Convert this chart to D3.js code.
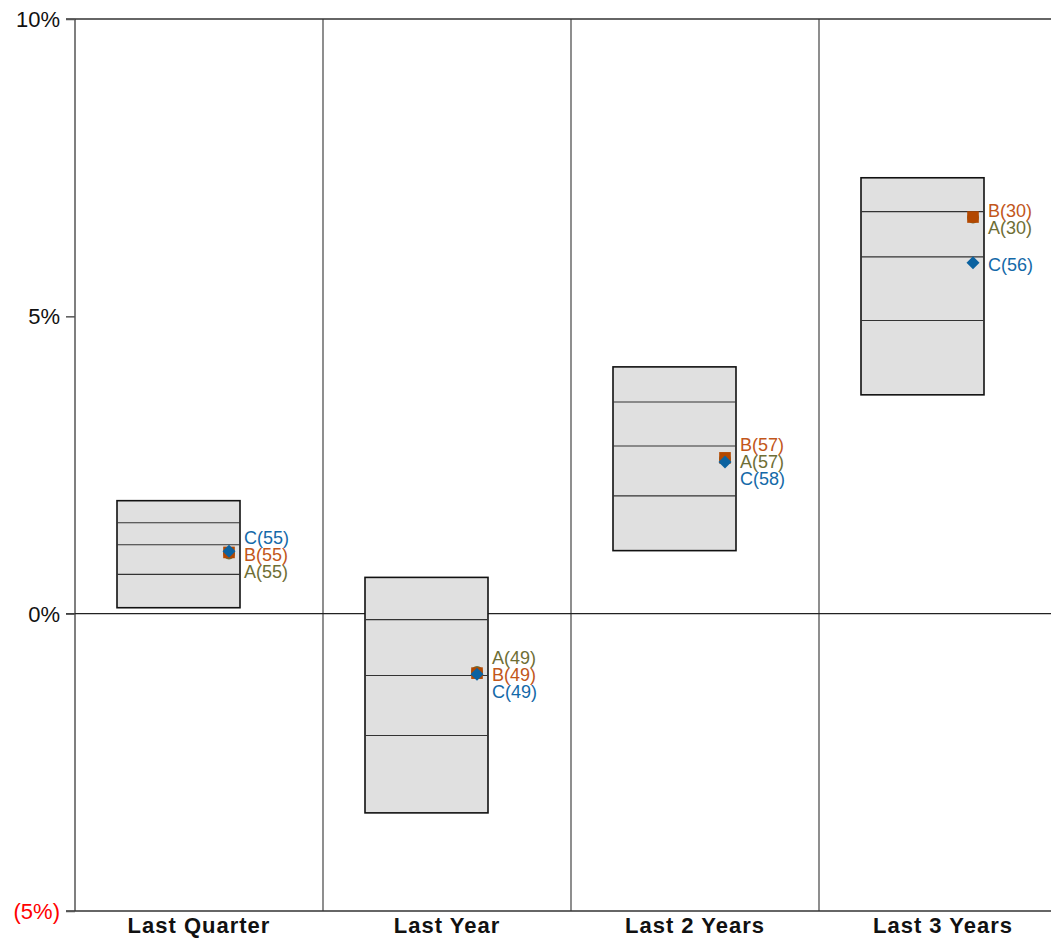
<!DOCTYPE html>
<html>
<head>
<meta charset="utf-8">
<script src="https://cdn.jsdelivr.net/npm/d3@7"></script>
<style>
  html, body { margin: 0; padding: 0; background: #fff; overflow: hidden; }
  svg { display: block; font-family: "Liberation Sans", Arial, sans-serif; }
</style>
</head>
<body>
<svg id="chart" width="1051" height="941"></svg>
<script>
// ---- data ----
const categories = ["Last Quarter", "Last Year", "Last 2 Years", "Last 3 Years"];
// box statistics (percent): top, upper, median, lower, bottom
const boxTop    = [1.90, 0.61, 4.15, 7.33];
const boxUpper  = [1.53, -0.10, 3.56, 6.76];
const boxMedian = [1.16, -1.04, 2.82, 6.00];
const boxLower  = [0.66, -2.05, 1.98, 4.93];
const boxBottom = [0.10, -3.35, 1.06, 3.68];
// series values (percent) and ranks
const seriesNames = ["A", "B", "C"];
const valuesA = [1.01, -0.98, 2.60, 6.66];
const valuesB = [1.03, -1.00, 2.62, 6.67];
const valuesC = [1.05, -1.02, 2.55, 5.90];
const ranksA = [55, 49, 57, 30];
const ranksB = [55, 49, 57, 30];
const ranksC = [55, 49, 58, 56];
const yTicks = [-5, 0, 5, 10];
const yTickLabels = ["(5%)", "0%", "5%", "10%"];

// ---- layout ----
const svg = d3.select("#chart");
const pLeft = 75, pRight = 1067, pTop = 19, pBottom = 911;
const x = d3.scaleBand().domain(categories).range([pLeft, pRight]).padding(0);
const y = d3.scaleLinear().domain([-5, 10]).range([pBottom, pTop]);

const markerColor = { A: "#6e6e35", B: "#b34800", C: "#0b62a0" };
const textColor = { A: "#6e6e35", B: "#c2561a", C: "#1469a8" };

// vertical separators
svg.append("g").selectAll("line").data(categories.slice(1)).join("line")
  .attr("x1", d => x(d)).attr("x2", d => x(d))
  .attr("y1", pTop).attr("y2", pBottom)
  .attr("stroke", "#444").attr("stroke-width", 1.2);

// y axis line
svg.append("line").attr("x1", pLeft).attr("x2", pLeft).attr("y1", pTop).attr("y2", pBottom)
  .attr("stroke", "#555").attr("stroke-width", 1.5);

// horizontal lines at 10%, 0%, -5%
svg.append("g").selectAll("line").data([10, 0, -5]).join("line")
  .attr("x1", pLeft - 9).attr("x2", pRight)
  .attr("y1", d => y(d)).attr("y2", d => y(d))
  .attr("stroke", d => d === 0 ? "#222" : "#333").attr("stroke-width", d => d === 0 ? 1.2 : 1.5);

// y ticks
const yAxis = d3.axisLeft(y).tickValues(yTicks).tickSize(9).tickPadding(6)
  .tickFormat((d, i) => yTickLabels[i]);
const ga = svg.append("g").attr("transform", `translate(${pLeft},0)`).call(yAxis);
ga.select(".domain").remove();
ga.selectAll(".tick line").attr("stroke", "#555").attr("stroke-width", 1.5);
ga.selectAll(".tick text")
  .style("font-size", "22px")
  .style("font-family", '"Liberation Sans", Arial, sans-serif')
  .attr("fill", d => d < 0 ? "#ff0000" : "#111")
  .attr("dy", "0.34em");

// x labels
const gx = svg.append("g").attr("transform", `translate(0,${pBottom})`)
  .call(d3.axisBottom(x).tickSize(0).tickPadding(6));
gx.select(".domain").remove();
gx.selectAll(".tick text")
  .style("font-size", "22px").style("font-weight", "bold")
  .style("letter-spacing", "1px")
  .style("font-family", '"Liberation Sans", Arial, sans-serif')
  .attr("fill", "#111").attr("dy", "0.71em");

// boxes
const boxX0 = 42, boxW = 123;
categories.forEach((c, i) => {
  const g = svg.append("g");
  const x0 = x(c) + boxX0;
  g.append("rect")
    .attr("x", x0).attr("y", y(boxTop[i]))
    .attr("width", boxW).attr("height", y(boxBottom[i]) - y(boxTop[i]))
    .attr("fill", "#e0e0e0").attr("stroke", "#111").attr("stroke-width", 1.6);
  [boxUpper[i], boxMedian[i], boxLower[i]].forEach(v => {
    g.append("line").attr("x1", x0).attr("x2", x0 + boxW)
      .attr("y1", y(v)).attr("y2", y(v))
      .attr("stroke", "#333").attr("stroke-width", 1.1);
  });
});

// markers
const markerOffset = 154, labelOffset = 169;
const seriesVals = { A: valuesA, B: valuesB, C: valuesC };
const seriesRanks = { A: ranksA, B: ranksB, C: ranksC };
const symbolType = { A: d3.symbolCircle, B: d3.symbolSquare, C: d3.symbolSquare };
const symbolSize = { A: 110, B: 135, C: 85 };
const symbolRot = { A: 0, B: 0, C: 45 };
seriesNames.forEach(s => {
  svg.append("g").selectAll("path").data(categories).join("path")
    .attr("transform", (c, i) => `translate(${x(c) + markerOffset},${y(seriesVals[s][i])}) rotate(${symbolRot[s]})`)
    .attr("d", d3.symbol().type(symbolType[s]).size(symbolSize[s]))
    .attr("fill", markerColor[s]);
});

// labels with dodge
const gap = 17;
categories.forEach((c, i) => {
  const items = seriesNames.map(s => ({ s, v: seriesVals[s][i], r: seriesRanks[s][i], py: y(seriesVals[s][i]) }))
    .sort((a, b) => b.v - a.v);
  items.forEach(d => d.ly = d.py);
  for (let it = 0; it < 100; it++) {
    let moved = false;
    for (let k = 1; k < items.length; k++) {
      const diff = items[k].ly - items[k - 1].ly;
      if (diff < gap - 0.01) {
        const push = (gap - diff) / 2;
        items[k - 1].ly -= push; items[k].ly += push; moved = true;
      }
    }
    if (!moved) break;
  }
  svg.append("g").selectAll("text").data(items).join("text")
    .attr("x", x(c) + labelOffset).attr("y", d => d.ly + 2)
    .attr("dy", "0.35em")
    .style("font-size", "18px")
    .attr("fill", d => textColor[d.s])
    .text(d => `${d.s}(${d.r})`);
});
</script>
</body>
</html>
